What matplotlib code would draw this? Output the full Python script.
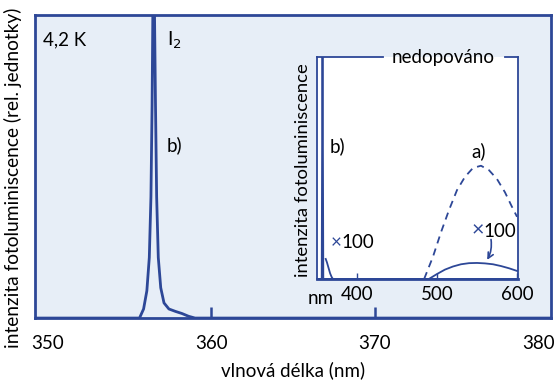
import matplotlib.pyplot as plt

plt.rcParams['font.family'] = ['Lato', 'DejaVu Sans']
fs = 13.5
blue = '#2d4797'
bg = '#e7eef7'

# main spectrum, 4.2 K
wl_main = [349.2, 355.6, 355.85, 356.05, 356.2, 356.3, 356.37, 356.43, 356.5, 356.58,
           356.65, 356.75, 356.9, 357.1, 357.4, 357.8, 358.2, 358.6, 359.0, 380.8]
I_main = [0.0, 0.0, 0.03, 0.09, 0.20, 0.40, 0.70, 1.10, 1.10, 0.70,
          0.40, 0.20, 0.10, 0.05, 0.03, 0.022, 0.015, 0.006, 0.0, 0.0]
main_ticks = [350, 360, 370, 380]

# inset: undoped
wl_b = [350, 356, 357, 358, 600]
I_b = [0.0, 0.0, 1.2, 0.0, 0.0]
wl_b100 = [361, 362.5, 364.5, 366.5, 368.5, 370]
I_b100 = [0.09, 0.075, 0.05, 0.025, 0.008, 0.0]
wl_a = [484, 495, 505, 515, 525, 535, 545, 555, 565, 575, 585, 593, 600]
I_a = [0.0, 0.10, 0.21, 0.31, 0.40, 0.46, 0.50, 0.51, 0.49, 0.45, 0.39, 0.33, 0.28]
wl_a100 = [490, 500, 510, 520, 530, 540, 550, 560, 570, 580, 590, 600]
I_a100 = [0.0, 0.022, 0.042, 0.056, 0.066, 0.071, 0.072, 0.070, 0.066, 0.058, 0.048, 0.036]
inset_ticks = [400, 500, 600]

fig = plt.figure(figsize=(5.55, 3.8), dpi=100)
ax = fig.add_axes([0.063, 0.163, 0.93, 0.797])
ax.set_facecolor(bg)
ax.plot(wl_main, I_main, color=blue, lw=2)
ax.set_xlim(349.2, 380.8)
ax.set_ylim(0, 1)
ax.set_yticks([])
ax.set_xticks(main_ticks)
ax.tick_params(axis='x', direction='in', length=8, width=1.8, color=blue, pad=12, labelsize=fs)
ticks = ax.xaxis.get_major_ticks()
ticks[0].tick1line.set_visible(False)
ticks[-1].tick1line.set_visible(False)
for s in ax.spines.values():
    s.set_color(blue)
    s.set_linewidth(2)
ax.set_xlabel('vlnová délka (nm)', fontsize=fs, labelpad=7)
ax.set_ylabel('intenzita fotoluminiscence (rel. jednotky)', fontsize=13.8)
ax.yaxis.set_label_coords(-0.025, 0.464)
ax.text(0.015, 0.9, '4,2 K', transform=ax.transAxes, fontsize=fs)
ax.text(0.255, 0.9, 'I$_2$', transform=ax.transAxes, fontsize=fs)
ax.text(0.255, 0.55, 'b)', transform=ax.transAxes, fontsize=fs)

ins = fig.add_axes([0.571, 0.266, 0.362, 0.584])
ins.set_facecolor('white')
ins.plot(wl_b, I_b, color=blue, lw=1.3)
ins.plot(wl_b100, I_b100, color=blue, lw=1.3)
ins.plot(wl_a, I_a, color=blue, lw=1.3, ls=(0, (4, 3)))
ins.plot(wl_a100, I_a100, color=blue, lw=1.3)
ins.set_xlim(350, 601)
ins.set_ylim(0, 1)
ins.set_yticks([])
ins.set_xticks(inset_ticks)
ins.tick_params(axis='x', direction='in', length=4, width=1, color=blue, pad=5, labelsize=fs)
for s in ins.spines.values():
    s.set_color(blue)
    s.set_linewidth(1.3)
ins.spines['bottom'].set_linewidth(2)
ins.spines['top'].set_visible(False)
ins.plot([350, 432], [1, 1], color=blue, lw=1.3, clip_on=False, transform=ins.get_xaxis_transform())
ins.plot([585, 601], [1, 1], color=blue, lw=1.3, clip_on=False, transform=ins.get_xaxis_transform())
ins.set_ylabel('intenzita fotoluminiscence', fontsize=13.3)
ins.yaxis.set_label_coords(-0.028, 0.49)
ins.text(0.085, -0.05, 'nm', transform=ins.transAxes, fontsize=fs, ha='right', va='top')
ins.text(0.63, 1.0, 'nedopováno', transform=ins.transAxes, fontsize=fs,
         ha='center', va='center')
ins.text(0.065, 0.57, 'b)', transform=ins.transAxes, fontsize=fs)
ins.text(0.77, 0.55, 'a)', transform=ins.transAxes, fontsize=fs)
ins.text(0.07, 0.14, '×', transform=ins.transAxes, fontsize=fs, color=blue)
ins.text(0.12, 0.14, '100', transform=ins.transAxes, fontsize=fs)
ins.text(0.77, 0.19, '×', transform=ins.transAxes, fontsize=fs + 2, color=blue)
ins.text(0.83, 0.19, '100', transform=ins.transAxes, fontsize=fs)
ins.annotate('', xy=(561, 0.075), xytext=(567, 0.19),
             arrowprops=dict(arrowstyle='->', color=blue, lw=1.2,
                             connectionstyle='arc3,rad=-0.2'))

fig.savefig('out.png', dpi=100)
